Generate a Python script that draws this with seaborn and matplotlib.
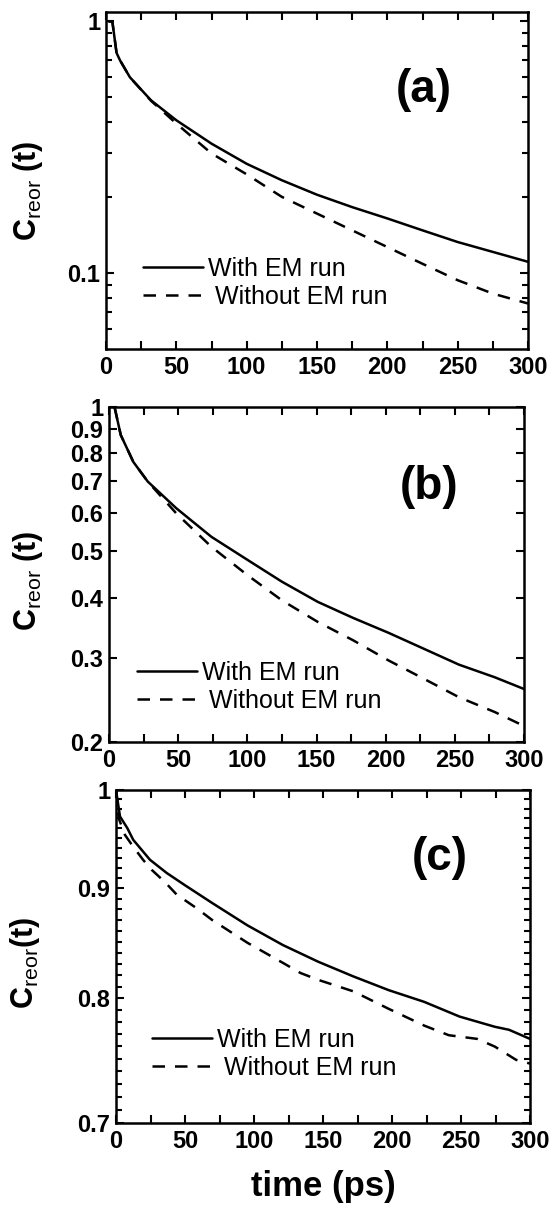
import numpy as np
import pandas as pd
import matplotlib
matplotlib.use("Agg")
import matplotlib.pyplot as plt
from matplotlib.ticker import FixedLocator, NullFormatter, NullLocator
import seaborn as sns

# ---------------- data ----------------
# panel (a)
t_a = [2, 4.5, 7.5, 10, 17, 32, 50, 75, 100, 125, 150, 175, 200, 225, 250, 275, 300]
a_with = [1.0, 1.0, 0.75, 0.70, 0.60, 0.486, 0.405, 0.327, 0.272, 0.234, 0.205, 0.183,
          0.165, 0.148, 0.133, 0.1215, 0.111]
a_without = [1.0, 1.0, 0.75, 0.70, 0.60, 0.484, 0.393, 0.299, 0.247, 0.201, 0.1725, 0.148,
             0.127, 0.109, 0.0938, 0.083, 0.0758]

# panel (b)
t_b = [4.0, 8.5, 17.6, 28, 48.6, 74, 100, 125, 151, 176.5, 202, 227.6, 253, 278.8, 300]
b_with = [1.0, 0.874, 0.768, 0.699, 0.615, 0.536, 0.48, 0.432, 0.392, 0.363, 0.338,
          0.313, 0.29, 0.273, 0.258]
b_without = [1.0, 0.874, 0.768, 0.699, 0.60, 0.511, 0.446, 0.395, 0.356, 0.326, 0.296,
             0.271, 0.248, 0.231, 0.216]

# panel (c)
t_c_with = [0, 2.9, 8.2, 12.5, 24.6, 36.7, 50, 69.7, 95.3, 120.9, 146.5, 172, 197.7,
            223.3, 249, 274.5, 284.8, 300]
c_with = [1.0, 0.972, 0.960, 0.948, 0.928, 0.915, 0.903, 0.886, 0.865, 0.847, 0.832,
          0.819, 0.807, 0.797, 0.7845, 0.776, 0.7735, 0.766]
t_c_without = [0, 2, 6.5, 12.5, 19.6, 25.9, 35.5, 44, 58.5, 69.7, 95.3, 120.9, 133.7,
               146.5, 172, 197.7, 223.3, 241.2, 261.7, 274.5, 289.9, 300]
c_without = [1.0, 0.97, 0.953, 0.941, 0.928, 0.918, 0.906, 0.894, 0.881, 0.870, 0.849,
             0.831, 0.822, 0.816, 0.806, 0.791, 0.777, 0.769, 0.766, 0.7597, 0.749, 0.746]

series_labels = ["With EM run", " Without EM run"]
panel_labels = ["(a)", "(b)", "(c)"]

x_ticks = [0, 50, 100, 150, 200, 250, 300]
x_tick_labels = ["0", "50", "100", "150", "200", "250", "300"]

ya_ticks = [0.1, 1]
ya_tick_labels = ["0.1", "1"]
yb_ticks = [0.2, 0.3, 0.4, 0.5, 0.6, 0.7, 0.8, 0.9, 1.0]
yb_tick_labels = ["0.2", "0.3", "0.4", "0.5", "0.6", "0.7", "0.8", "0.9", "1"]
yc_ticks = [0.7, 0.8, 0.9, 1.0]
yc_tick_labels = ["0.7", "0.8", "0.9", "1"]

# ---------------- style ----------------
sns.set_style("ticks")
plt.rcParams["font.family"] = ["Liberation Sans", "DejaVu Sans"]
plt.rcParams["mathtext.fontset"] = "custom"
plt.rcParams["mathtext.rm"] = "Liberation Sans"
plt.rcParams["mathtext.bf"] = "Liberation Sans:bold"
plt.rcParams["mathtext.it"] = "Liberation Sans:italic"
for key in ["text.color", "axes.labelcolor", "xtick.color", "ytick.color",
            "axes.edgecolor", "legend.labelcolor"]:
    plt.rcParams[key] = "black"

fig = plt.figure(figsize=(5.53, 12.11), dpi=100)

W, H = 553.0, 1211.0
def rect(l, r, t, b):
    return [l / W, 1 - b / H, (r - l) / W, (b - t) / H]

ax_a = fig.add_axes(rect(106, 528, 12, 349))
ax_b = fig.add_axes(rect(109, 524, 407, 742))
ax_c = fig.add_axes(rect(116, 530, 790, 1123))

LW = 1.8
DASH = (0, (5, 4))

def draw(ax, t1, y1, t2, y2):
    df1 = pd.DataFrame({"t": t1, "c": y1})
    df2 = pd.DataFrame({"t": t2, "c": y2})
    sns.lineplot(data=df1, x="t", y="c", ax=ax, color="black", lw=LW,
                 label=series_labels[0], estimator=None, sort=False)
    sns.lineplot(data=df2, x="t", y="c", ax=ax, color="black", lw=LW,
                 linestyle=DASH, label=series_labels[1], estimator=None, sort=False)

draw(ax_a, t_a, a_with, t_a, a_without)
draw(ax_b, t_b, b_with, t_b, b_without)
draw(ax_c, t_c_with, c_with, t_c_without, c_without)

setups = [
    (ax_a, (0.05, 1.09), ya_ticks, ya_tick_labels,
     [0.06, 0.07, 0.08, 0.09, 0.2, 0.3, 0.4, 0.5, 0.6, 0.7, 0.8, 0.9],
     r"$\mathbf{C}_{\mathrm{reor}}\ \mathbf{(t)}$", -0.145, 0.47,
     (0.754, 0.769), (0.088, 0.196)),
    (ax_b, (0.2, 1.0), yb_ticks, yb_tick_labels, None,
     r"$\mathbf{C}_{\mathrm{reor}}\ \mathbf{(t)}$", -0.154, 0.48,
     (0.771, 0.761), (0.067, 0.164)),
    (ax_c, (0.7, 1.0), yc_ticks, yc_tick_labels,
     [v / 100 for v in range(71, 100) if v not in (80, 90)],
     r"$\mathbf{C}_{\mathrm{reor}}\mathbf{(t)}$", -0.179, 0.48,
     (0.783, 0.796), (0.087, 0.207)),
]

for i, (ax, ylim, yt, ytl, yminor, ylab, lx, ly, ppos, lpos) in enumerate(setups):
    ax.set_yscale("log")
    ax.set_xlim(0, 300)
    ax.set_ylim(*ylim)
    ax.set_xticks(x_ticks, labels=x_tick_labels, fontweight="bold", fontsize=17,
                  color="black")
    ax.xaxis.set_minor_locator(FixedLocator([25, 75, 125, 175, 225, 275]))
    ax.set_yticks(yt, labels=ytl, fontweight="bold", fontsize=17, color="black")
    if yminor is None:
        ax.yaxis.set_minor_locator(NullLocator())
    else:
        ax.yaxis.set_minor_locator(FixedLocator(yminor))
    ax.yaxis.set_minor_formatter(NullFormatter())
    ax.tick_params(which="both", direction="in", top=True, right=True, width=1.5,
                   color="black", labelcolor="black")
    ax.tick_params(axis="x", which="both", length=6, pad=5)
    ax.tick_params(axis="y", which="major", length=6, pad=4)
    ax.tick_params(axis="y", which="minor", length=4)
    for sp in ax.spines.values():
        sp.set_linewidth(1.8)
        sp.set_color("black")
    ax.set_xlabel("")
    ax.set_ylabel(ylab, fontsize=22, color="black")
    ax.yaxis.set_label_coords(lx, ly)
    ax.text(ppos[0], ppos[1], panel_labels[i], transform=ax.transAxes,
            fontsize=33, fontweight="bold", ha="center", va="center", color="black")
    ax.legend(loc="center left", bbox_to_anchor=lpos, frameon=False, fontsize=18,
              handlelength=2.4, handletextpad=0.2, labelspacing=0.15,
              borderpad=0, borderaxespad=0, labelcolor="black")

ax_c.set_xlabel("time (ps)", fontsize=25, fontweight="bold", labelpad=12, color="black")

fig.savefig("out.png", dpi=100)
